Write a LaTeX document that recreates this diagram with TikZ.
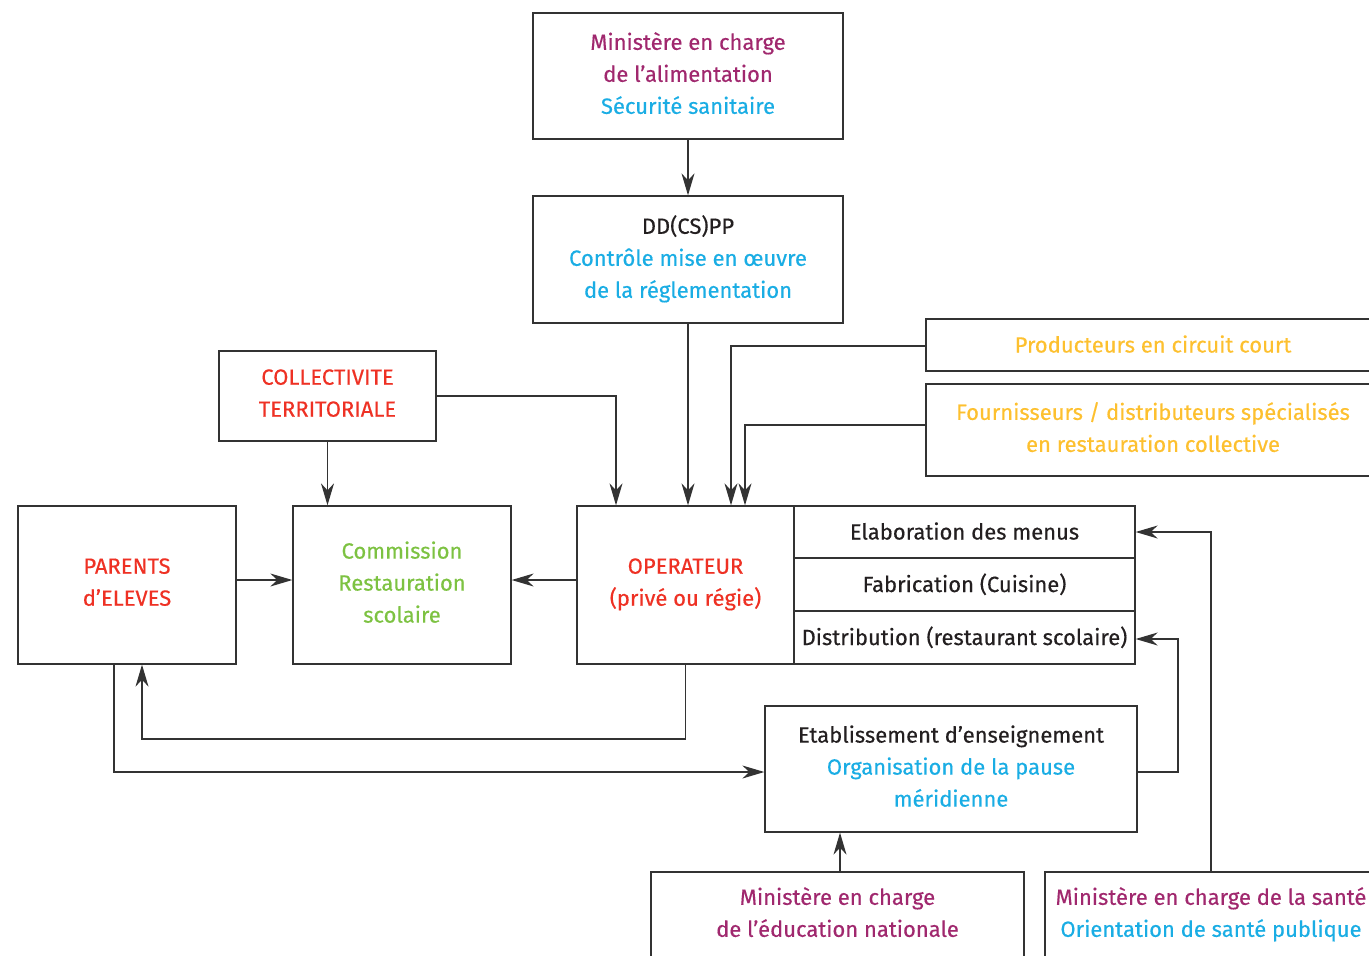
\documentclass[tikz,border=0pt]{standalone}
\usepackage{fontspec}
\setmainfont{Fira Sans}[FakeBold=0.4]
\usetikzlibrary{arrows.meta}
\definecolor{cpurple}{HTML}{A0286E}
\definecolor{ccyan}{HTML}{1AADE4}
\definecolor{cred}{HTML}{EE3124}
\definecolor{cgreen}{HTML}{7DC242}
\definecolor{cyellow}{HTML}{FDC02F}
\definecolor{ctext}{HTML}{231F20}
\definecolor{cline}{HTML}{333333}
\tikzset{
  box/.style={draw=cline, line width=1.3bp, inner sep=0pt, align=center, text=ctext,
    font=\fontsize{22bp}{32bp}\selectfont,
    execute at begin node={\rule{0pt}{21bp}},
    execute at end node={\rule[-6bp]{0pt}{0pt}}},
  conn/.style={draw=cline, line width=1.3bp, -{Stealth[length=22bp,width=13bp,inset=7bp]}},
}
\begin{document}
\begin{tikzpicture}[x=1bp,y=-1bp]
\useasboundingbox (0,0) rectangle (1369,955);
\clip (0,0) rectangle (1369,955);
% boxes
\node[box, minimum width=310bp, minimum height=126bp] (mal) at (688,76)
  {\textcolor{cpurple}{Ministère en charge}\\\textcolor{cpurple}{de l’alimentation}\\\textcolor{ccyan}{Sécurité sanitaire}};
\node[box, minimum width=310bp, minimum height=127bp] (dd) at (688,259.5)
  {DD(CS)PP\\\textcolor{ccyan}{Contrôle mise en œuvre}\\\textcolor{ccyan}{de la réglementation}};
\node[box, minimum width=454bp, minimum height=52bp] (prod) at (1153,345)
  {\textcolor{cyellow}{Producteurs en circuit court}};
\node[box, minimum width=454bp, minimum height=92bp] (four) at (1153,430)
  {\textcolor{cyellow}{Fournisseurs / distributeurs spécialisés}\\\textcolor{cyellow}{en restauration collective}};
\node[box, minimum width=217bp, minimum height=90bp] (coll) at (327.5,396)
  {\textcolor{cred}{COLLECTIVITE}\\\textcolor{cred}{TERRITORIALE}};
\node[box, minimum width=218bp, minimum height=158bp] (par) at (127,585)
  {\textcolor{cred}{PARENTS}\\\textcolor{cred}{d’ELEVES}};
\node[box, minimum width=218bp, minimum height=158bp] (com) at (402,585)
  {\textcolor{cgreen}{Commission}\\\textcolor{cgreen}{Restauration}\\\textcolor{cgreen}{scolaire}};
\node[box, minimum width=217bp, minimum height=158bp] (op) at (685.5,585)
  {\textcolor{cred}{OPERATEUR}\\\textcolor{cred}{(privé ou régie)}};
\node[box, minimum width=341bp, minimum height=52bp] (elab) at (964.5,532)
  {Elaboration des menus};
\node[box, minimum width=341bp, minimum height=53bp] (fab) at (964.5,584.5)
  {Fabrication (Cuisine)};
\node[box, minimum width=341bp, minimum height=53bp] (dist) at (964.5,637.5)
  {Distribution (restaurant scolaire)};
\node[box, minimum width=372bp, minimum height=126bp] (etab) at (951,769)
  {Etablissement d’enseignement\\\textcolor{ccyan}{Organisation de la pause}\\\textcolor{ccyan}{méridienne}};
\node[box, minimum width=373bp, minimum height=86bp] (med) at (837.5,915)
  {\textcolor{cpurple}{Ministère en charge}\\\textcolor{cpurple}{de l’éducation nationale}};
\node[box, minimum width=332bp, minimum height=86bp] (msa) at (1211,915)
  {\textcolor{cpurple}{Ministère en charge de la santé}\\\textcolor{ccyan}{Orientation de santé publique}};
% connectors
\draw[conn] (mal.south) -- (dd.north);
\draw[conn] (dd.south) -- (dd.south |- op.north);
\draw[conn] (coll.east) -| (616,0 |- op.north);
\draw[conn] (coll.south) -- (coll.south |- com.north);
\draw[conn] (prod.west |- 0,346) -| (731,0 |- op.north);
\draw[conn] (four.west |- 0,425) -| (745,0 |- op.north);
\draw[conn] (par.east |- 0,580) -- (com.west |- 0,580);
\draw[conn] (op.west |- 0,580) -- (com.east |- 0,580);
\draw[conn] (op.south) -- (685.5,739) -| (142,0 |- par.south);
\draw[conn] (114,0 |- par.south) |- (etab.west |- 0,772);
\draw[conn] (etab.east |- 0,772) -| (1178,639) -- (dist.east |- 0,639);
\draw[conn] (1211,0 |- msa.north) |- (elab.east);
\draw[conn] (840,0 |- med.north) -- (840,0 |- etab.south);
\end{tikzpicture}
\end{document}
